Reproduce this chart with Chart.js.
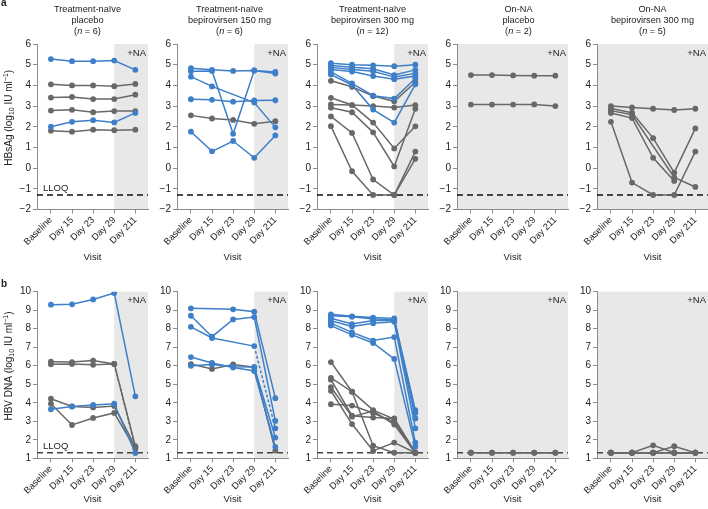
<!DOCTYPE html>
<html>
<head>
<meta charset="utf-8">
<script src="https://cdn.jsdelivr.net/npm/chart.js@4.4.0/dist/chart.umd.min.js"></script>
<style>
  html, body { margin: 0; padding: 0; background: #fff; }
  body { width: 708px; height: 509px; position: relative; overflow: hidden; }
  canvas { position: absolute; }
</style>
</head>
<body>
<script>
const visits = ['Baseline', 'Day 15', 'Day 23', 'Day 29', 'Day 211'];

// a: HBsAg (log10 IU/ml)
const naivePlaceboBlue = [[5.27, 5.17, 5.17, 5.2, 4.75], [2.0, 2.24, 2.32, 2.21, 2.67]];
const naivePlaceboGray = [[4.05, 4.0, 4.0, 3.96, 4.07], [3.41, 3.44, 3.34, 3.34, 3.55], [2.78, 2.82, 2.7, 2.76, 2.76], [1.81, 1.76, 1.86, 1.83, 1.86]];
const naive150Blue = [[4.83, 4.75, 4.7, 4.72, 4.65], [4.68, 4.7, 1.66, 4.72, 4.57], [4.42, 3.95, null, 3.17, 1.97], [3.33, 3.3, 3.21, 3.27, 3.28], [1.76, 0.81, 1.31, 0.5, 1.58]];
const naive150Gray = [[2.55, 2.4, 2.33, 2.14, 2.27]];
const naive300Blue = [[5.07, 5.0, 4.97, 4.93, 5.0], [4.96, 4.88, 4.8, 4.5, 4.75], [4.87, 4.77, 4.68, 4.4, 4.58], [4.77, 4.67, 4.45, 4.3, 4.45], [4.65, 4.1, 3.5, 3.36, 4.33], [4.52, 4.02, 2.83, 2.2, 4.05]];
const naive300Gray = [[4.22, 3.93, 3.48, 3.23, 4.15], [3.4, 3.05, 2.2, 0.95, 2.02], [3.08, 3.05, 3.0, 2.93, 3.05], [2.92, 2.7, 1.73, 0.08, 2.87], [2.5, 1.7, -0.55, -1.3, 0.8], [2.03, -0.15, -1.3, -1.3, 0.45]];
const onPlaceboGray = [[4.5, 4.5, 4.48, 4.47, 4.47], [3.07, 3.07, 3.07, 3.08, 3.0]];
const on300Gray = [[3.0, 2.93, 2.87, 2.81, 2.87], [2.88, 2.68, 1.45, -0.22, 1.92], [2.78, 2.58, null, -0.45, -0.91], [2.66, 2.42, 0.5, -0.62, null], [2.24, -0.7, -1.3, -1.3, 0.8]];

// b: HBV DNA (log10 IU/ml)
const dnaNaivePlaceboBlue = [[9.3, 9.32, 9.58, 9.93, 4.35], [3.65, 3.8, 3.88, 3.95, 1.28]];
const dnaNaivePlaceboGray = [[6.22, 6.2, 6.28, 6.1, 1.65], [6.08, 6.1, 6.05, 6.1, 1.6], [4.22, 3.8, 3.75, 3.82, 1.62], [3.95, 2.8, 3.18, 3.45, 1.5]];
const dnaNaive150Blue = [[9.1, null, 9.05, 8.92, 4.25], [8.7, 7.57, 8.5, 8.63, 3.02], [8.1, 7.5, null, 7.06, 2.62], [6.47, 6.15, 5.9, 5.72, 1.62], [6.0, 6.07, 5.95, 5.93, 2.12]];
const dnaNaive150Gray = [[6.09, 5.83, 6.07, 5.92, 1.42]];
const dnaNaive300Blue = [[8.78, 8.67, 8.6, 8.56, 3.6], [8.7, 8.65, 8.52, 8.5, 3.45], [8.57, 8.25, 8.45, 8.44, 3.15], [8.43, 8.12, 8.3, 8.37, 2.62], [8.3, 7.8, 7.36, 7.55, 1.85], [8.17, 7.67, 7.23, 6.37, 1.63]];
const dnaNaive300Gray = [[6.2, 4.6, 3.6, 3.12, 1.3], [5.35, 4.6, 1.68, 1.3, 1.3], [5.25, 3.3, 3.2, 3.15, 1.3], [4.85, 3.25, 3.55, 2.82, 1.3], [4.65, 2.85, 1.4, 1.85, 1.3], [3.92, 3.85, 3.45, 2.95, 1.3]];
const dnaOnPlaceboGray = [[1.3, 1.3, 1.3, 1.3, 1.3], [1.3, 1.3, 1.3, 1.3, 1.3]];
const dnaOn300Gray = [[1.3, 1.3, 1.3, 1.3, 1.3], [1.3, 1.3, 1.3, 1.3, 1.3], [1.3, 1.3, 1.3, 1.3, 1.3], [1.3, 1.3, 1.7, 1.3, 1.3], [1.3, 1.3, 1.3, 1.65, 1.3]];

const groupTitles = [
  ['Treatment-naïve', 'placebo', '6'],
  ['Treatment-naïve', 'bepirovirsen 150 mg', '6'],
  ['Treatment-naïve', 'bepirovirsen 300 mg', '12'],
  ['On-NA', 'placebo', '2'],
  ['On-NA', 'bepirovirsen 300 mg', '5']
];
const naFrom = [3, 3, 3, -1, -1];  // visit index where NA is added
const lloq = 1.3;

const BLUE = '#3d7fc8';
const GRAY = '#686868';
const SHADE = '#e8e8e8';
const AXIS = '#8c8c8c';
const TEXT = '#222';
const FAM = "'Liberation Sans', Arial, sans-serif";

function drawYTitle(ctx, parts, cx, cy) {
  let w = 0;
  parts.forEach(p => { ctx.font = p[1] + 'px ' + FAM; w += ctx.measureText(p[0]).width; });
  ctx.save();
  ctx.translate(cx, cy);
  ctx.rotate(-Math.PI / 2);
  ctx.textAlign = 'left';
  ctx.textBaseline = 'alphabetic';
  let x = -w / 2;
  parts.forEach(p => {
    ctx.font = p[1] + 'px ' + FAM;
    ctx.fillText(p[0], x, 3.6 + p[2]);
    x += ctx.measureText(p[0]).width;
  });
  ctx.restore();
}

const panelDecor = {
  id: 'panelDecor',
  beforeDraw(chart, args, o) {
    const {ctx, chartArea: a, scales: {x}} = chart;
    const x0 = Math.max(a.left, x.getPixelForValue(o.naFrom));
    ctx.save();
    ctx.fillStyle = SHADE;
    ctx.fillRect(x0, a.top, a.right - x0, a.bottom - a.top);
    ctx.restore();
  },
  afterDraw(chart, args, o) {
    const {ctx, chartArea: a, scales: {y}} = chart;
    ctx.save();
    ctx.fillStyle = TEXT;
    ctx.font = '9.5px ' + FAM;
    ctx.textAlign = 'right';
    ctx.textBaseline = 'alphabetic';
    ctx.fillText('+NA', a.right - 2, a.top + 11.5);

    if (o.title) {
      const cx = (a.left + a.right) / 2 + o.dx;
      ctx.textAlign = 'center';
      ctx.font = '9.2px ' + FAM;
      ctx.fillText(o.title[0], cx, 11.5);
      ctx.fillText(o.title[1], cx, 22.5);
      const parts = [['(', ''], ['n', 'italic '], [' = ' + o.title[2] + ')', '']];
      let w = 0;
      parts.forEach(p => { ctx.font = p[1] + '9.2px ' + FAM; w += ctx.measureText(p[0]).width; });
      let xx = cx - w / 2;
      ctx.textAlign = 'left';
      parts.forEach(p => {
        ctx.font = p[1] + '9.2px ' + FAM;
        ctx.fillText(p[0], xx, 33.5);
        xx += ctx.measureText(p[0]).width;
      });
    }
    if (o.first) {
      ctx.font = '9.5px ' + FAM;
      ctx.textAlign = 'left';
      ctx.fillText('LLOQ', a.left + 6, y.getPixelForValue(o.lloq) - 4);
      ctx.font = 'bold 10px ' + FAM;
      ctx.fillText(o.letter, 1, o.letterY);
      drawYTitle(ctx, o.yTitle, 8, (a.top + a.bottom) / 2 - 9);
    }
    ctx.restore();
  }
};

function lineSets(rows, color, dashed) {
  return rows.map((vals, k) => ({
    data: vals.map((v, i) => ({x: i, y: v})),
    borderColor: color,
    backgroundColor: color,
    borderWidth: 1.5,
    pointRadius: 2.9,
    pointBorderWidth: 0,
    spanGaps: true,
    segment: {
      borderDash: ctx => (dashed === k && ctx.p1DataIndex === 4) ? [3, 2] : undefined
    }
  }));
}

function makePanel(i, row, blueRows, grayRows, dash) {
  const cv = document.createElement('canvas');
  cv.width = 152;
  cv.height = row.height;
  cv.style.left = (140 * i) + 'px';
  cv.style.top = row.top + 'px';
  document.body.appendChild(cv);

  const datasets = [
    ...lineSets(blueRows, BLUE, dash.blue),
    ...lineSets(grayRows, GRAY, dash.gray),
    {
      data: [{x: -0.66, y: row.lloq}, {x: 4.6, y: row.lloq}],
      borderColor: row.lloqColor,
      borderWidth: 1.5,
      borderDash: [6, 4],
      pointRadius: 0
    }
  ];

  new Chart(cv, {
    type: 'line',
    data: {datasets: datasets},
    plugins: [panelDecor],
    options: {
      responsive: false,
      animation: false,
      devicePixelRatio: 1,
      layout: {padding: {left: 0, right: 3, top: row.padTop, bottom: 0}},
      plugins: {
        legend: {display: false},
        tooltip: {enabled: false},
        panelDecor: {
          naFrom: naFrom[i],
          title: row.titles ? groupTitles[i] : null,
          dx: [-5, -3, 0, 6, 0][i],
          first: i === 0,
          lloq: row.lloq,
          letter: row.letter,
          letterY: row.letterY,
          yTitle: row.yTitle
        }
      },
      scales: {
        x: {
          type: 'linear',
          min: -0.66,
          max: 4.6,
          afterBuildTicks: s => { s.ticks = visits.map((v, k) => ({value: k})); },
          afterFit: s => { s.height = row.xHeight; },
          ticks: {
            callback: v => visits[v],
            autoSkip: false,
            minRotation: 45,
            maxRotation: 45,
            padding: 1,
            color: TEXT,
            font: {family: FAM, size: 9.3}
          },
          grid: {drawOnChartArea: false, tickLength: 4, color: AXIS},
          border: {color: AXIS},
          title: {display: true, text: 'Visit', color: TEXT, font: {family: FAM, size: 9.5}, padding: {top: 0, bottom: 4}}
        },
        y: {
          min: row.min,
          max: row.max,
          afterFit: s => { s.width = 37; },
          ticks: {
            stepSize: 1,
            padding: 2,
            color: TEXT,
            font: {family: FAM, size: 10},
            callback: v => v < 0 ? '\u2212' + Math.abs(v) : String(v)
          },
          grid: {drawOnChartArea: false, tickLength: 4, color: AXIS},
          border: {color: AXIS}
        }
      }
    }
  });
}

const rowA = {
  top: 0, height: 267, padTop: 44, xHeight: 57.5, min: -2, max: 6,
  lloq: -lloq, lloqColor: '#111', titles: true, letter: 'a', letterY: 6,
  yTitle: [['HBsAg (log', 10, 0], ['10', 7, 2.5], [' IU ml', 10, 0], ['\u22121', 7, -4], [')', 10, 0]]
};
const rowB = {
  top: 262, height: 247, padTop: 29.7, xHeight: 50.7, min: 1, max: 10,
  lloq: lloq, lloqColor: '#444', titles: false, letter: 'b', letterY: 24.7,
  yTitle: [['HBV DNA (log', 10, 0], ['10', 7, 2.5], [' IU ml', 10, 0], ['\u22121', 7, -4], [')', 10, 0]]
};

makePanel(0, rowA, naivePlaceboBlue, naivePlaceboGray, {});
makePanel(1, rowA, naive150Blue, naive150Gray, {});
makePanel(2, rowA, naive300Blue, naive300Gray, {});
makePanel(3, rowA, [], onPlaceboGray, {});
makePanel(4, rowA, [], on300Gray, {});

makePanel(0, rowB, dnaNaivePlaceboBlue, dnaNaivePlaceboGray, {gray: 1});
makePanel(1, rowB, dnaNaive150Blue, dnaNaive150Gray, {blue: 2});
makePanel(2, rowB, dnaNaive300Blue, dnaNaive300Gray, {});
makePanel(3, rowB, [], dnaOnPlaceboGray, {});
makePanel(4, rowB, [], dnaOn300Gray, {});
</script>
</body>
</html>
